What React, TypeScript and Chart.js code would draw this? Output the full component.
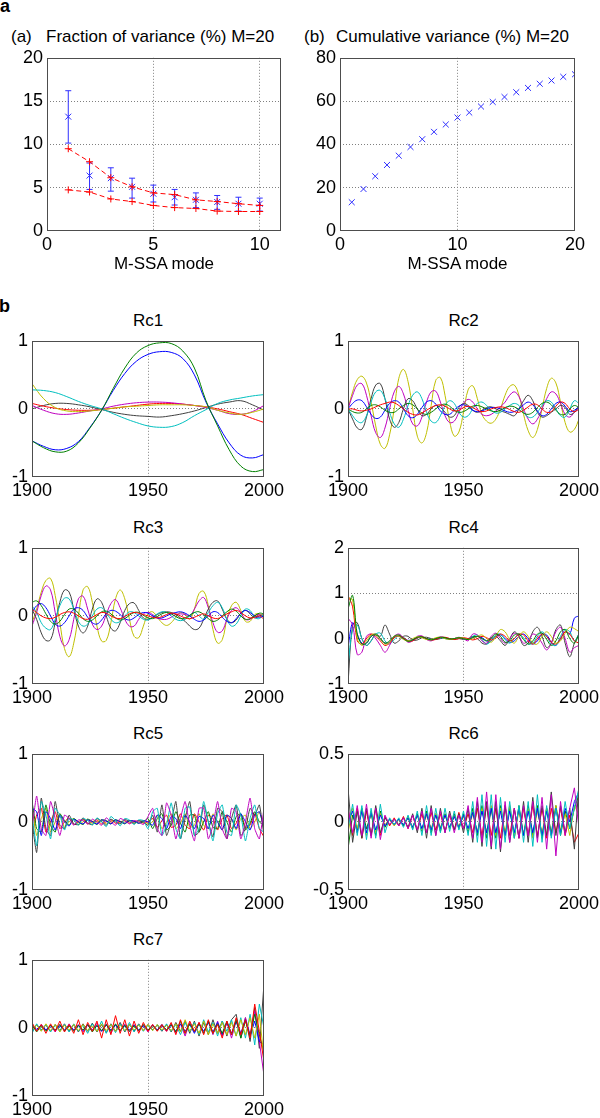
import React, { useEffect, useRef } from "react";
import { Chart, registerables } from "chart.js";

Chart.register(...registerables);

const FONT = "'Liberation Sans', Arial, Helvetica, sans-serif";

// ---------- panel (a): fraction of variance ----------
const MODES = [1, 2, 3, 4, 5, 6, 7, 8, 9, 10];
const FRAC_VAR = [13.2, 6.4, 6.1, 5.1, 4.3, 3.9, 3.6, 3.35, 3.15, 3.15];
const FRAC_LO = [10.15, 4.8, 4.6, 3.8, 3.35, 3.0, 2.7, 2.5, 2.3, 2.3];
const FRAC_HI = [16.2, 7.85, 7.3, 6.1, 5.3, 4.8, 4.4, 4.1, 3.9, 3.8];
const NULL_UPPER = [9.5, 8.0, 6.15, 5.1, 4.4, 4.2, 3.6, 3.4, 3.15, 2.95];
const NULL_LOWER = [4.75, 4.5, 3.7, 3.4, 2.95, 2.7, 2.6, 2.3, 2.25, 2.25];
const A_X_TICKS = [0, 5, 10];
const A_Y_TICKS = [0, 5, 10, 15, 20];

// ---------- panel (b): cumulative variance ----------
const CUM_MODES = [1, 2, 3, 4, 5, 6, 7, 8, 9, 10, 11, 12, 13, 14, 15, 16, 17, 18, 19, 20];
const CUM_VAR = [13.3, 19.4, 25.3, 30.5, 34.8, 38.8, 42.4, 45.8, 49.2, 52.4, 54.7, 57.5, 59.6, 61.9, 64.1, 66.1, 68.0, 69.5, 71.2, 72.4];
const B_X_TICKS = [0, 10, 20];
const B_Y_TICKS = [0, 20, 40, 60, 80];

// ---------- reconstructed components ----------
const YEARS5 = [1900, 1905, 1910, 1915, 1920, 1925, 1930, 1935, 1940, 1945, 1950, 1955, 1960, 1965, 1970, 1975, 1980, 1985, 1990, 1995, 2000];
const YEARS2 = [
  1900, 1902, 1904, 1906, 1908, 1910, 1912, 1914, 1916, 1918,
  1920, 1922, 1924, 1926, 1928, 1930, 1932, 1934, 1936, 1938,
  1940, 1942, 1944, 1946, 1948, 1950, 1952, 1954, 1956, 1958,
  1960, 1962, 1964, 1966, 1968, 1970, 1972, 1974, 1976, 1978,
  1980, 1982, 1984, 1986, 1988, 1990, 1992, 1994, 1996, 1998,
  2000,
];
const RC_X_TICKS = [1900, 1950, 2000];
const Y_TICKS_1 = [-1, 0, 1];
const Y_TICKS_RC4 = [-1, 0, 1, 2];
const Y_TICKS_RC6 = [-0.5, 0, 0.5];

// Rc1
const RC1_GREEN = [-0.47, -0.57, -0.63, -0.62, -0.5, -0.28, -0.02, 0.3, 0.6, 0.82, 0.93, 0.97, 0.96, 0.85, 0.6, 0.12, -0.25, -0.6, -0.84, -0.92, -0.89];
const RC1_BLUE = [-0.47, -0.55, -0.6, -0.58, -0.48, -0.27, -0.02, 0.27, 0.52, 0.7, 0.8, 0.84, 0.83, 0.74, 0.5, 0.1, -0.22, -0.5, -0.68, -0.72, -0.67];
const RC1_CYAN = [0.28, 0.27, 0.24, 0.18, 0.11, 0.05, 0.0, -0.07, -0.14, -0.2, -0.25, -0.27, -0.26, -0.2, -0.1, -0.01, 0.08, 0.13, 0.16, 0.19, 0.21];
const RC1_YELLOW = [0.37, 0.15, 0.02, -0.03, -0.04, -0.03, -0.01, 0.01, 0.03, 0.04, 0.05, 0.06, 0.06, 0.06, 0.05, 0.03, -0.02, -0.06, -0.08, -0.05, 0.0];
const RC1_MAGENTA = [0.05, -0.02, -0.07, -0.08, -0.06, -0.03, 0.0, 0.04, 0.07, 0.09, 0.1, 0.1, 0.09, 0.07, 0.05, 0.02, -0.02, -0.07, -0.08, -0.04, 0.05];
const RC1_RED = [0.08, 0.04, 0.01, -0.01, -0.02, -0.02, -0.01, 0.01, 0.03, 0.05, 0.07, 0.08, 0.08, 0.07, 0.05, 0.03, 0.0, -0.04, -0.08, -0.14, -0.2];
const RC1_GRAY = [0.0, 0.05, 0.08, 0.08, 0.06, 0.03, -0.01, -0.05, -0.08, -0.1, -0.11, -0.12, -0.1, -0.07, -0.03, 0.02, 0.07, 0.1, 0.12, 0.06, -0.02];

// Rc2
const RC2_YELLOW = [
  0.0, 0.25, 0.43, 0.48, 0.38, 0.1, -0.25, -0.52, -0.58, -0.38,
  0.0, 0.45, 0.58, 0.4, 0.0, -0.4, -0.5, -0.35, 0.05, 0.42,
  0.46, 0.2, -0.18, -0.4, -0.34, -0.05, 0.28, 0.34, 0.15, -0.08,
  -0.18, -0.21, -0.15, 0.0, 0.2, 0.33, 0.35, 0.2, -0.08, -0.32,
  -0.42, -0.3, 0.0, 0.3, 0.45, 0.38, 0.1, -0.2, -0.34, -0.3,
  -0.15,
];
const RC2_MAGENTA = [
  0.0, 0.2, 0.35, 0.37, 0.2, -0.1, -0.35, -0.42, -0.28, 0.0,
  0.25, 0.33, 0.22, -0.02, -0.22, -0.25, -0.12, 0.1, 0.25, 0.26,
  0.1, -0.1, -0.2, -0.18, -0.05, 0.08, 0.14, 0.1, 0.0, -0.08,
  -0.1, -0.08, -0.03, 0.03, 0.1, 0.2, 0.25, 0.18, 0.0, -0.15,
  -0.22, -0.15, 0.0, 0.15, 0.25, 0.22, 0.08, -0.08, -0.12, -0.05,
  0.0,
];
const RC2_GRAY = [
  0.0, -0.15, -0.28, -0.3, -0.12, 0.15, 0.35, 0.37, 0.15, -0.15,
  -0.27, -0.2, 0.0, 0.15, 0.12, 0.0, -0.1, -0.08, 0.0, 0.05,
  0.02, -0.05, -0.12, -0.1, 0.02, 0.08, 0.05, -0.02, -0.05, -0.02,
  0.02, 0.03, 0.0, -0.03, -0.05, -0.08, -0.1, 0.0, 0.12, 0.2,
  0.12, -0.05, -0.12, -0.1, -0.05, 0.0, 0.05, 0.02, -0.08, -0.05,
  0.05,
];
const RC2_CYAN = [
  0.0, -0.1, -0.18, -0.2, -0.1, 0.1, 0.25, 0.27, 0.15, -0.05,
  -0.22, -0.27, -0.15, 0.05, 0.2, 0.25, 0.15, -0.05, -0.18, -0.2,
  -0.1, 0.05, 0.12, 0.08, -0.05, -0.12, -0.1, 0.0, 0.08, 0.1,
  0.05, -0.02, -0.06, -0.05, 0.0, 0.05, 0.08, 0.05, -0.05, -0.12,
  -0.12, -0.05, 0.05, 0.12, 0.1, 0.0, -0.1, -0.12, 0.0, 0.12,
  0.08,
];
const RC2_BLUE = [
  0.0, 0.08, 0.13, 0.12, 0.03, -0.08, -0.14, -0.12, -0.02, 0.08,
  0.12, 0.1, 0.0, -0.1, -0.13, -0.08, 0.02, 0.1, 0.12, 0.07,
  -0.03, -0.08, -0.08, -0.02, 0.04, 0.06, 0.03, -0.02, -0.04, -0.03,
  0.0, 0.02, 0.02, 0.0, -0.03, -0.05, -0.04, 0.0, 0.06, 0.1,
  0.06, -0.03, -0.1, -0.08, 0.0, 0.08, 0.1, 0.04, -0.04, -0.02,
  0.03,
];
const RC2_RED = [
  0.0, 0.0, -0.02, -0.03, -0.02, 0.0, 0.03, 0.06, 0.08, 0.1,
  0.09, 0.05, 0.0, -0.05, -0.08, -0.09, -0.06, -0.02, 0.02, 0.05,
  0.06, 0.04, 0.0, -0.03, -0.02, 0.02, 0.04, 0.02, -0.02, -0.04,
  -0.03, 0.0, 0.02, 0.03, 0.02, -0.01, -0.04, -0.05, -0.02, 0.03,
  0.07, 0.06, 0.0, -0.05, -0.04, 0.04, 0.1, 0.08, 0.0, -0.04,
  0.0,
];
const RC2_GREEN = [
  0.0, -0.04, -0.06, -0.05, 0.0, 0.05, 0.06, 0.03, -0.02, -0.05,
  -0.05, 0.0, 0.05, 0.08, 0.06, 0.0, -0.06, -0.08, -0.05, 0.0,
  0.05, 0.07, 0.04, -0.02, -0.05, -0.04, 0.0, 0.04, 0.05, 0.03,
  0.0, -0.03, -0.04, -0.02, 0.02, 0.04, 0.03, -0.01, -0.06, -0.08,
  -0.05, 0.02, 0.08, 0.1, 0.06, -0.02, -0.08, -0.08, 0.0, 0.05,
  0.02,
];

// Rc3
const RC3_YELLOW = [
  -0.1, 0.1, 0.35, 0.52, 0.55, 0.3, -0.1, -0.48, -0.6, -0.4,
  0.0, 0.38, 0.43, 0.2, -0.15, -0.37, -0.36, -0.1, 0.25, 0.38,
  0.25, -0.05, -0.3, -0.32, -0.15, 0.03, 0.06, -0.02, -0.1, -0.14,
  -0.1, -0.02, 0.05, 0.02, -0.05, 0.1, 0.33, 0.36, 0.15, -0.2,
  -0.4, -0.35, -0.05, 0.15, 0.2, 0.08, -0.08, -0.08, 0.02, 0.03,
  0.0,
];
const RC3_MAGENTA = [
  -0.15, 0.05, 0.3, 0.44, 0.38, 0.05, -0.3, -0.44, -0.35, -0.05,
  0.25, 0.29, 0.1, -0.12, -0.2, -0.15, 0.02, 0.18, 0.24, 0.12,
  -0.05, -0.15, -0.15, -0.05, 0.03, 0.05, 0.02, -0.03, -0.05, -0.05,
  -0.02, 0.02, 0.03, 0.02, 0.0, 0.1, 0.22, 0.27, 0.12, -0.1,
  -0.24, -0.22, -0.05, 0.08, 0.12, 0.05, -0.05, -0.05, 0.0, 0.02,
  -0.02,
];
const RC3_GRAY = [
  0.1, -0.05, -0.25, -0.36, -0.35, -0.1, 0.2, 0.38, 0.35, 0.1,
  -0.15, -0.25, -0.15, 0.1, 0.25, 0.2, 0.0, -0.18, -0.22, -0.1,
  0.08, 0.18, 0.19, 0.08, -0.03, -0.05, -0.02, 0.02, 0.05, 0.06,
  0.05, 0.02, -0.03, -0.08, -0.15, -0.2, -0.18, -0.05, 0.1, 0.2,
  0.22, 0.1, -0.05, -0.1, -0.06, 0.04, 0.08, 0.03, -0.03, 0.0,
  0.02,
];
const RC3_CYAN = [
  0.15, 0.05, -0.1, -0.18, -0.2, -0.05, 0.15, 0.26, 0.25, 0.1,
  -0.08, -0.15, -0.12, 0.0, 0.1, 0.12, 0.05, -0.05, -0.1, -0.08,
  0.0, 0.06, 0.05, 0.0, -0.05, -0.06, -0.02, 0.03, 0.06, 0.05,
  0.0, -0.05, -0.07, -0.05, 0.0, 0.05, 0.0, -0.05, 0.05, 0.15,
  0.2, 0.12, -0.05, -0.15, -0.12, 0.0, 0.1, 0.08, -0.02, -0.04,
  0.03,
];
const RC3_BLUE = [
  0.05, 0.15, 0.18, 0.12, 0.0, -0.12, -0.15, -0.1, 0.0, 0.1,
  0.12, 0.08, -0.02, -0.1, -0.12, -0.06, 0.03, 0.08, 0.07, 0.02,
  -0.04, -0.06, -0.03, 0.02, 0.05, 0.04, 0.0, -0.03, -0.03, 0.0,
  0.03, 0.05, 0.06, 0.04, 0.0, -0.05, -0.08, -0.06, 0.0, 0.06,
  0.05, -0.02, -0.08, -0.1, -0.04, 0.04, 0.08, 0.05, 0.0, -0.02,
  0.0,
];
const RC3_RED = [
  0.1, 0.05, 0.0, -0.03, -0.04, -0.02, 0.02, 0.05, 0.06, 0.04,
  0.0, -0.04, -0.05, -0.02, 0.02, 0.05, 0.04, 0.0, -0.03, -0.04,
  -0.01, 0.03, 0.05, 0.04, 0.02, 0.0, -0.02, -0.03, -0.01, 0.02,
  0.04, 0.03, 0.0, -0.03, -0.04, -0.02, 0.01, 0.03, 0.0, -0.03,
  -0.04, -0.01, 0.03, 0.06, 0.08, 0.05, 0.0, -0.03, -0.02, 0.0,
  -0.05,
];
const RC3_GREEN = [
  0.2, 0.22, 0.15, 0.03, -0.08, -0.12, -0.08, 0.02, 0.1, 0.1,
  0.04, -0.04, -0.08, -0.06, 0.0, 0.06, 0.07, 0.03, -0.03, -0.06,
  -0.04, 0.01, 0.05, 0.05, 0.01, -0.03, -0.04, -0.01, 0.03, 0.05,
  0.03, -0.01, -0.04, -0.03, 0.01, 0.05, 0.06, 0.02, -0.04, -0.08,
  -0.06, 0.0, 0.06, 0.1, 0.07, 0.0, -0.05, -0.04, 0.0, 0.04,
  0.03,
];

// Rc4
const RC4_GREEN = [
  0.65, 0.95, 0.1, -0.12, -0.1, 0.05, 0.08, 0.0, -0.1, -0.05,
  0.05, 0.08, 0.0, -0.06, -0.03, 0.03, 0.04, 0.0, -0.03, 0.0,
  0.03, 0.02, -0.01, 0.0, 0.02, 0.0, -0.02, 0.03, 0.05, 0.0,
  -0.05, 0.02, 0.1, 0.05, -0.08, -0.05, 0.08, 0.1, -0.02, -0.12,
  -0.05, 0.1, 0.12, -0.02, -0.15, -0.05, 0.15, 0.2, 0.0, -0.1,
  0.1,
];
const RC4_YELLOW = [
  0.9, 0.85, 0.0, -0.15, -0.05, 0.08, 0.1, 0.0, -0.12, -0.08,
  0.05, 0.05, -0.02, -0.05, 0.0, 0.04, 0.02, -0.02, -0.02, 0.02,
  0.03, 0.0, -0.02, 0.0, 0.02, 0.01, -0.02, 0.0, 0.05, 0.08,
  0.0, -0.08, 0.05, 0.2, 0.15, -0.02, -0.1, 0.05, 0.15, 0.05,
  -0.1, -0.12, 0.05, 0.15, 0.05, -0.1, -0.05, 0.12, 0.25, 0.22,
  0.15,
];
const RC4_RED = [
  0.95, 0.7, -0.05, -0.12, 0.0, 0.1, 0.05, -0.05, -0.15, -0.1,
  0.02, 0.06, 0.02, -0.05, -0.05, 0.02, 0.04, 0.0, -0.03, -0.02,
  0.02, 0.03, 0.0, -0.02, 0.0, 0.02, 0.0, -0.03, 0.0, 0.05,
  0.02, -0.03, 0.02, 0.1, 0.05, -0.05, 0.0, 0.1, 0.08, -0.05,
  -0.12, 0.0, 0.1, 0.05, -0.08, -0.12, 0.0, 0.15, 0.1, -0.05,
  -0.1,
];
const RC4_MAGENTA = [
  0.45, 0.3, -0.35, -0.3, 0.05, 0.1, 0.0, -0.15, -0.3, -0.15,
  0.05, 0.1, 0.02, -0.08, -0.05, 0.05, 0.06, -0.02, -0.05, 0.0,
  0.04, 0.02, -0.02, 0.0, 0.03, 0.0, -0.05, 0.1, 0.08, -0.05,
  -0.1, 0.05, 0.12, 0.0, -0.1, 0.0, 0.12, 0.05, -0.1, -0.05,
  0.1, 0.05, -0.1, -0.25, -0.1, 0.15, 0.25, 0.0, -0.3, -0.2,
  -0.15,
];
const RC4_CYAN = [
  -0.6, 0.2, 0.3, 0.0, -0.15, -0.05, 0.1, 0.12, -0.05, -0.12,
  -0.02, 0.06, 0.03, -0.05, -0.04, 0.02, 0.03, 0.0, -0.02, 0.0,
  0.02, 0.0, -0.02, 0.0, 0.02, 0.0, -0.02, 0.05, 0.08, -0.02,
  -0.12, -0.05, 0.08, 0.1, -0.02, -0.1, 0.0, 0.1, 0.02, -0.12,
  -0.1, 0.05, 0.15, 0.05, -0.12, -0.15, 0.05, 0.2, 0.15, -0.05,
  0.1,
];
const RC4_BLUE = [
  -0.2, 0.35, 0.1, -0.1, -0.1, 0.05, 0.1, 0.0, -0.1, -0.08,
  0.03, 0.05, 0.0, -0.04, -0.02, 0.02, 0.03, 0.0, -0.02, 0.0,
  0.02, 0.01, -0.01, 0.0, 0.01, 0.0, -0.02, 0.02, 0.05, 0.02,
  -0.05, -0.05, 0.05, 0.08, 0.0, -0.08, -0.05, 0.05, 0.1, 0.0,
  -0.12, -0.05, 0.1, 0.08, -0.08, -0.15, 0.0, 0.15, 0.1, 0.45,
  0.5,
];
const RC4_GRAY = [
  -1.0, 0.3, 0.35, 0.0, -0.15, -0.05, 0.1, 0.05, 0.3, 0.1,
  -0.1, -0.05, 0.05, 0.05, -0.03, -0.03, 0.02, 0.03, 0.0, -0.02,
  0.0, 0.02, 0.0, -0.02, 0.0, -0.02, 0.0, 0.05, 0.0, -0.1,
  -0.12, 0.0, 0.05, -0.05, -0.15, 0.0, 0.15, 0.05, -0.15, -0.1,
  0.15, 0.25, 0.05, -0.2, -0.1, 0.2, 0.3, -0.1, -0.4, -0.1,
  0.1,
];

// Rc5
const RC5_MAGENTA = [
  -0.1, 0.38, -0.1, -0.2, 0.3, 0.05, -0.2, 0.1, 0.05, -0.05,
  0.03, 0.02, -0.03, 0.04, 0.0, -0.05, 0.06, 0.0, -0.05, 0.05,
  0.02, -0.03, 0.02, 0.0, -0.04, 0.08, 0.2, -0.1, -0.2, 0.28,
  0.1, -0.25, 0.05, 0.3, -0.05, -0.28, 0.2, 0.2, -0.25, -0.05,
  0.3, -0.1, -0.25, 0.2, 0.15, -0.25, 0.0, 0.35, -0.1, -0.25,
  0.2,
];
const RC5_CYAN = [
  0.1, -0.35, 0.3, 0.1, -0.25, 0.2, 0.1, -0.12, 0.05, 0.03,
  -0.05, 0.05, 0.02, -0.05, 0.06, 0.0, -0.07, 0.08, 0.02, -0.06,
  0.05, 0.03, -0.04, 0.03, 0.02, -0.1, 0.15, 0.2, -0.2, -0.05,
  0.28, -0.1, -0.25, 0.2, 0.22, -0.2, -0.1, 0.3, 0.0, -0.28,
  0.12, 0.25, -0.15, -0.2, 0.25, 0.1, -0.28, 0.05, 0.25, -0.1,
  -0.15,
];
const RC5_GRAY = [
  0.0, -0.45, 0.35, -0.1, -0.2, 0.3, -0.05, -0.1, 0.1, -0.03,
  -0.04, 0.06, -0.02, -0.04, 0.05, 0.01, -0.05, 0.04, 0.0, -0.03,
  0.04, 0.0, -0.02, 0.02, 0.0, -0.05, 0.1, -0.15, 0.25, -0.2,
  0.0, 0.3, -0.25, 0.05, 0.3, -0.2, -0.15, 0.25, 0.0, -0.22,
  0.2, 0.15, -0.25, 0.05, 0.25, -0.2, -0.1, 0.2, 0.1, 0.25,
  -0.2,
];
const RC5_BLUE = [
  0.2, 0.15, -0.2, 0.15, 0.05, -0.12, 0.1, 0.0, -0.06, 0.04,
  0.0, -0.03, 0.03, 0.0, -0.03, 0.03, 0.01, -0.03, 0.03, 0.0,
  -0.02, 0.02, 0.01, -0.02, 0.02, 0.0, -0.05, 0.1, 0.05, -0.1,
  0.08, 0.05, -0.1, 0.1, 0.0, -0.1, 0.08, 0.05, -0.1, 0.1,
  0.0, -0.12, 0.1, 0.05, -0.1, 0.12, 0.0, -0.12, 0.1, 0.15,
  -0.1,
];
const RC5_GREEN = [
  0.3, -0.1, -0.15, 0.25, -0.05, -0.15, 0.12, 0.02, -0.05, 0.05,
  0.0, -0.04, 0.04, 0.01, -0.04, 0.03, 0.02, -0.03, 0.03, 0.01,
  -0.03, 0.02, 0.01, -0.02, 0.0, 0.05, -0.1, 0.05, 0.12, -0.12,
  -0.05, 0.15, -0.02, -0.15, 0.1, 0.1, -0.15, 0.0, 0.15, -0.08,
  -0.1, 0.15, 0.0, -0.15, 0.08, 0.12, -0.12, -0.02, 0.15, 0.0,
  -0.05,
];
const RC5_RED = [
  -0.2, 0.1, 0.2, -0.15, 0.0, 0.15, -0.1, 0.0, 0.06, -0.04,
  0.0, 0.04, -0.03, 0.0, 0.03, -0.03, 0.0, 0.03, -0.02, 0.0,
  0.02, -0.02, 0.0, 0.02, -0.02, 0.0, 0.05, -0.08, 0.02, 0.1,
  -0.08, -0.05, 0.12, -0.05, -0.1, 0.12, 0.0, -0.12, 0.1, 0.05,
  -0.12, 0.05, 0.1, -0.1, -0.02, 0.12, -0.08, -0.05, 0.12, -0.1,
  -0.22,
];
const RC5_YELLOW = [
  0.25, -0.2, 0.05, 0.2, -0.15, 0.0, 0.12, -0.08, 0.0, 0.05,
  -0.04, 0.0, 0.04, -0.03, 0.0, 0.03, -0.03, 0.0, 0.03, -0.02,
  0.0, 0.02, -0.02, 0.0, 0.02, -0.03, 0.0, 0.1, -0.1, 0.0,
  0.12, -0.1, -0.02, 0.12, -0.08, -0.05, 0.12, -0.05, -0.1, 0.12,
  0.0, -0.12, 0.1, 0.05, -0.12, 0.05, 0.1, -0.1, 0.0, 0.15,
  -0.1,
];

// Rc6
const RC6_MAGENTA = [
  0.1, -0.08, 0.12, -0.1, 0.13, -0.12, 0.1, -0.13, 0.05, -0.02,
  0.02, -0.03, 0.03, -0.05, 0.05, -0.06, 0.08, -0.08, 0.1, -0.1,
  0.08, -0.08, 0.06, -0.08, 0.05, -0.05, 0.12, -0.12, 0.18, -0.15,
  0.22, -0.18, 0.2, -0.2, 0.15, -0.15, 0.1, -0.12, 0.12, -0.1,
  0.15, -0.15, 0.18, -0.2, 0.2, -0.25, 0.15, -0.1, 0.1, 0.25,
  -0.05,
];
const RC6_CYAN = [
  -0.05, 0.13, -0.1, 0.12, -0.13, 0.1, -0.12, 0.13, -0.08, 0.03,
  -0.02, 0.03, -0.04, 0.05, -0.06, 0.08, -0.1, 0.12, -0.1, 0.1,
  -0.08, 0.1, -0.07, 0.08, -0.06, 0.08, -0.1, 0.15, -0.15, 0.2,
  -0.18, 0.2, -0.2, 0.18, -0.15, 0.15, -0.12, 0.12, -0.15, 0.15,
  -0.18, 0.2, -0.15, 0.12, -0.12, 0.1, -0.1, 0.15, -0.05, 0.1,
  0.25,
];
const RC6_GRAY = [
  0.25, -0.15, 0.08, -0.12, 0.1, -0.1, 0.12, -0.08, 0.03, -0.02,
  0.02, -0.02, 0.03, -0.04, 0.06, -0.08, 0.1, -0.12, 0.12, -0.1,
  0.1, -0.08, 0.08, -0.06, 0.06, -0.08, 0.1, -0.15, 0.15, -0.18,
  0.15, -0.2, 0.15, -0.22, 0.12, -0.15, 0.1, -0.12, 0.15, -0.15,
  0.18, -0.12, 0.12, -0.1, 0.22, -0.1, 0.12, -0.08, 0.1, -0.2,
  0.28,
];
const RC6_BLUE = [
  0.0, 0.08, -0.08, 0.08, -0.08, 0.07, -0.06, 0.05, -0.03, 0.02,
  -0.02, 0.02, -0.02, 0.03, -0.04, 0.05, -0.05, 0.06, -0.06, 0.05,
  -0.05, 0.05, -0.04, 0.04, -0.04, 0.05, -0.05, 0.07, -0.08, 0.08,
  -0.08, 0.1, -0.08, 0.08, -0.1, 0.08, -0.08, 0.1, -0.1, 0.08,
  -0.08, 0.1, -0.1, 0.08, -0.1, 0.1, -0.08, 0.1, 0.0, 0.15,
  0.22,
];
const RC6_RED = [
  0.1, -0.1, 0.1, -0.12, 0.08, -0.1, 0.1, -0.1, 0.04, -0.03,
  0.03, -0.03, 0.04, -0.05, 0.05, -0.06, 0.06, -0.08, 0.07, -0.06,
  0.06, -0.07, 0.05, -0.06, 0.07, -0.05, 0.06, -0.08, 0.1, -0.1,
  0.12, -0.1, 0.1, -0.12, 0.12, -0.1, 0.1, -0.12, 0.1, -0.1,
  0.12, -0.1, 0.1, -0.12, 0.1, -0.08, 0.1, -0.1, 0.05, -0.15,
  -0.08,
];
const RC6_YELLOW = [
  -0.08, 0.1, -0.05, 0.08, -0.1, 0.08, -0.08, 0.06, -0.02, 0.02,
  -0.03, 0.02, -0.02, 0.04, -0.04, 0.05, -0.06, 0.05, -0.05, 0.06,
  -0.04, 0.05, -0.05, 0.04, -0.03, 0.04, -0.06, 0.06, -0.08, 0.1,
  -0.08, 0.12, -0.1, 0.1, -0.08, 0.12, -0.1, 0.08, -0.1, 0.1,
  -0.12, 0.08, -0.08, 0.1, -0.1, 0.12, -0.06, 0.06, -0.1, 0.12,
  0.05,
];
const RC6_GREEN = [
  -0.2, 0.05, -0.06, 0.1, -0.05, 0.06, -0.1, 0.08, -0.04, 0.02,
  -0.02, 0.02, -0.03, 0.03, -0.05, 0.06, -0.07, 0.08, -0.08, 0.06,
  -0.07, 0.06, -0.05, 0.06, -0.05, 0.06, -0.08, 0.1, -0.1, 0.12,
  -0.12, 0.1, -0.12, 0.12, -0.1, 0.1, -0.12, 0.12, -0.1, 0.12,
  -0.1, 0.12, -0.12, 0.1, -0.08, 0.12, -0.1, 0.08, -0.05, 0.1,
  0.2,
];

// Rc7
const RC7_RED = [
  0.08, -0.05, 0.05, -0.08, 0.06, -0.05, 0.1, -0.06, 0.05, -0.08,
  0.12, -0.1, 0.08, -0.05, 0.1, -0.15, 0.12, -0.1, 0.18, -0.08,
  0.12, -0.12, 0.1, -0.08, 0.08, -0.05, 0.05, -0.05, 0.05, -0.05,
  0.08, -0.1, 0.12, -0.08, 0.1, -0.05, 0.08, -0.1, 0.12, -0.08,
  0.05, -0.15, 0.1, -0.1, 0.15, -0.1, 0.12, -0.15, 0.35, -0.05,
  -0.5,
];
const RC7_GRAY = [
  -0.05, 0.05, -0.03, 0.04, -0.05, 0.05, -0.04, 0.06, -0.05, 0.05,
  -0.06, 0.06, -0.05, 0.07, -0.06, 0.05, -0.07, 0.06, -0.05, 0.08,
  -0.06, 0.05, -0.05, 0.06, -0.04, 0.05, -0.03, 0.04, -0.05, 0.05,
  -0.06, 0.08, -0.05, 0.1, -0.08, 0.1, -0.12, 0.08, -0.1, 0.12,
  -0.08, 0.1, -0.12, 0.12, 0.2, -0.15, 0.15, -0.2, 0.3, -0.3,
  0.65,
];
const RC7_MAGENTA = [
  0.03, -0.04, 0.05, -0.03, 0.04, -0.06, 0.05, -0.05, 0.06, -0.04,
  0.05, -0.06, 0.04, -0.05, 0.07, -0.05, 0.06, -0.08, 0.05, -0.05,
  0.06, -0.06, 0.05, -0.05, 0.04, -0.06, 0.05, -0.04, 0.03, -0.05,
  0.06, -0.08, 0.06, -0.12, 0.08, -0.06, 0.08, -0.08, 0.1, -0.1,
  0.1, -0.12, 0.08, -0.15, 0.1, -0.12, 0.15, -0.1, 0.25, -0.2,
  -0.7,
];
const RC7_CYAN = [
  -0.08, 0.06, -0.04, 0.05, -0.06, 0.04, -0.05, 0.05, -0.06, 0.06,
  -0.05, 0.04, -0.08, 0.06, -0.05, 0.1, -0.08, 0.05, -0.07, 0.06,
  -0.05, 0.08, -0.06, 0.05, -0.05, 0.04, -0.04, 0.05, -0.04, 0.06,
  -0.05, 0.05, -0.1, 0.08, -0.06, 0.08, -0.1, 0.12, -0.06, 0.08,
  -0.12, 0.1, -0.05, 0.12, -0.12, 0.15, -0.15, 0.2, -0.25, 0.35,
  0.0,
];
const RC7_BLUE = [
  0.02, -0.02, 0.04, -0.03, 0.03, -0.04, 0.03, -0.03, 0.04, -0.03,
  0.03, -0.04, 0.05, -0.03, 0.03, -0.05, 0.04, -0.03, 0.04, -0.04,
  0.03, -0.03, 0.04, -0.03, 0.03, -0.04, 0.04, -0.03, 0.05, -0.04,
  0.04, -0.05, 0.06, -0.05, 0.05, -0.08, 0.06, -0.05, 0.08, -0.06,
  0.08, -0.1, 0.08, -0.08, 0.1, -0.08, 0.12, -0.12, 0.1, -0.2,
  -0.25,
];
const RC7_GREEN = [
  0.05, -0.06, 0.03, -0.05, 0.04, -0.03, 0.05, -0.04, 0.03, -0.05,
  0.04, -0.03, 0.05, -0.06, 0.04, -0.04, 0.05, -0.05, 0.06, -0.04,
  0.04, -0.05, 0.03, -0.04, 0.05, -0.03, 0.03, -0.04, 0.04, -0.03,
  0.05, -0.06, 0.1, -0.08, 0.06, -0.05, 0.06, -0.08, 0.1, -0.08,
  0.06, -0.08, 0.1, -0.1, 0.12, -0.15, 0.1, -0.12, 0.2, -0.1,
  -0.35,
];
const RC7_YELLOW = [
  -0.03, 0.04, -0.05, 0.06, -0.04, 0.05, -0.06, 0.04, -0.03, 0.05,
  -0.04, 0.05, -0.04, 0.03, -0.05, 0.06, -0.04, 0.05, -0.05, 0.04,
  -0.04, 0.05, -0.03, 0.04, -0.04, 0.05, -0.04, 0.05, -0.03, 0.04,
  -0.04, 0.06, -0.06, 0.12, -0.05, 0.06, -0.08, 0.1, -0.1, 0.06,
  -0.08, 0.08, -0.1, 0.08, -0.12, 0.12, -0.1, 0.15, -0.15, 0.2,
  -0.45,
];

// ---------- styling ----------
const C = {
  blue: "#0000ff",
  green: "#008000",
  red: "#ff0000",
  cyan: "#00bfbf",
  magenta: "#bf00bf",
  yellow: "#bfbf00",
  gray: "#404040",
};
const MARK_BLUE = "#3030ff";

const YW = 40; // y-axis box width
const PT = 14; // room above plot
const PR = 26; // room right of plot
const XH = 32; // x-axis box height

const boxPlugin = {
  id: "matlabBox",
  afterDraw(chart: any) {
    const { ctx, chartArea } = chart;
    const l = Math.round(chartArea.left);
    const t = Math.round(chartArea.top);
    const r = Math.round(chartArea.right);
    const b = Math.round(chartArea.bottom);
    ctx.save();
    ctx.strokeStyle = "#4d4d4d";
    ctx.lineWidth = 1;
    ctx.setLineDash([]);
    ctx.strokeRect(l + 0.5, t + 0.5, r - l - 1, b - t - 1);
    ctx.restore();
  },
};

function axis(min: number, max: number, ticks: number[], isX: boolean) {
  return {
    type: "linear",
    min,
    max,
    afterBuildTicks: (s: any) => {
      s.ticks = ticks.map((v) => ({ value: v }));
    },
    afterFit: (s: any) => {
      if (isX) s.height = XH;
      else s.width = YW;
    },
    ticks: {
      color: "#000",
      font: { family: FONT, size: 18 },
      padding: isX ? 3 : 4,
      maxRotation: 0,
      minRotation: 0,
      autoSkip: false,
      callback: (v: any) => String(v),
    },
    grid: {
      color: (c: any) =>
        c.tick && (c.tick.value === min || c.tick.value === max) ? "rgba(0,0,0,0)" : "#808080",
      drawTicks: false,
      lineWidth: 1,
    },
    border: { display: false, dash: [1, 2] },
  };
}

function baseOptions(xMin: number, xMax: number, xTicks: number[], yMin: number, yMax: number, yTicks: number[]) {
  return {
    responsive: false,
    animation: false,
    layout: { padding: { top: PT, right: PR, left: 0, bottom: 0 } },
    plugins: { legend: { display: false }, tooltip: { enabled: false }, title: { display: false } },
    elements: { point: { radius: 0 }, line: { borderWidth: 1 } },
    scales: {
      x: axis(xMin, xMax, xTicks, true),
      y: axis(yMin, yMax, yTicks, false),
    },
  };
}

function xy(xs: number[], ys: (number | null)[]) {
  return xs.map((x, i) => ({ x, y: ys[i] }));
}

function buildFraction() {
  const errData: any[] = [];
  MODES.forEach((m, i) => {
    errData.push({ x: m, y: FRAC_LO[i] }, { x: m, y: FRAC_HI[i] }, { x: m, y: null });
  });
  return {
    type: "line",
    data: {
      datasets: [
        {
          data: xy(MODES, NULL_UPPER),
          borderColor: C.red,
          borderDash: [5, 3],
          borderWidth: 1,
          pointStyle: "cross",
          pointRadius: 3.5,
          pointBorderColor: C.red,
          pointBorderWidth: 1,
          tension: 0,
        },
        {
          data: xy(MODES, NULL_LOWER),
          borderColor: C.red,
          borderDash: [5, 3],
          borderWidth: 1,
          pointStyle: "cross",
          pointRadius: 3.5,
          pointBorderColor: C.red,
          pointBorderWidth: 1,
          tension: 0,
        },
        {
          data: xy(MODES, FRAC_VAR),
          showLine: false,
          pointStyle: "crossRot",
          pointRadius: 4.2,
          pointBorderColor: MARK_BLUE,
          pointBorderWidth: 1,
        },
        {
          data: errData,
          borderColor: MARK_BLUE,
          borderWidth: 1,
          spanGaps: false,
          pointStyle: "line",
          pointRadius: 3,
          pointBorderColor: MARK_BLUE,
          pointBorderWidth: 1,
          tension: 0,
        },
      ],
    },
    options: baseOptions(0, 11, A_X_TICKS, 0, 20, A_Y_TICKS),
    plugins: [boxPlugin],
  };
}

function buildCumulative() {
  return {
    type: "line",
    data: {
      datasets: [
        {
          data: xy(CUM_MODES, CUM_VAR),
          showLine: false,
          pointStyle: "crossRot",
          pointRadius: 4.2,
          pointBorderColor: MARK_BLUE,
          pointBorderWidth: 1,
        },
      ],
    },
    options: baseOptions(0, 20, B_X_TICKS, 0, 80, B_Y_TICKS),
    plugins: [boxPlugin],
  };
}

type RcDef = {
  title: string;
  col: number;
  row: number;
  years: number[];
  series: [number[], string][];
  yMin: number;
  yMax: number;
  yTicks: number[];
  tension: number;
};

// first series is drawn on top
const RC_PANELS: RcDef[] = [
  {
    title: "Rc1", col: 0, row: 0, years: YEARS5, yMin: -1, yMax: 1, yTicks: Y_TICKS_1, tension: 0.4,
    series: [[RC1_GREEN, C.green], [RC1_BLUE, C.blue], [RC1_CYAN, C.cyan], [RC1_YELLOW, C.yellow], [RC1_MAGENTA, C.magenta], [RC1_RED, C.red], [RC1_GRAY, C.gray]],
  },
  {
    title: "Rc2", col: 1, row: 0, years: YEARS2, yMin: -1, yMax: 1, yTicks: Y_TICKS_1, tension: 0.4,
    series: [[RC2_RED, C.red], [RC2_GREEN, C.green], [RC2_BLUE, C.blue], [RC2_CYAN, C.cyan], [RC2_GRAY, C.gray], [RC2_MAGENTA, C.magenta], [RC2_YELLOW, C.yellow]],
  },
  {
    title: "Rc3", col: 0, row: 1, years: YEARS2, yMin: -1, yMax: 1, yTicks: Y_TICKS_1, tension: 0.4,
    series: [[RC3_RED, C.red], [RC3_GREEN, C.green], [RC3_BLUE, C.blue], [RC3_CYAN, C.cyan], [RC3_GRAY, C.gray], [RC3_MAGENTA, C.magenta], [RC3_YELLOW, C.yellow]],
  },
  {
    title: "Rc4", col: 1, row: 1, years: YEARS2, yMin: -1, yMax: 2, yTicks: Y_TICKS_RC4, tension: 0.35,
    series: [[RC4_GREEN, C.green], [RC4_YELLOW, C.yellow], [RC4_RED, C.red], [RC4_MAGENTA, C.magenta], [RC4_CYAN, C.cyan], [RC4_BLUE, C.blue], [RC4_GRAY, C.gray]],
  },
  {
    title: "Rc5", col: 0, row: 2, years: YEARS2, yMin: -1, yMax: 1, yTicks: Y_TICKS_1, tension: 0.15,
    series: [[RC5_MAGENTA, C.magenta], [RC5_CYAN, C.cyan], [RC5_GRAY, C.gray], [RC5_BLUE, C.blue], [RC5_GREEN, C.green], [RC5_YELLOW, C.yellow], [RC5_RED, C.red]],
  },
  {
    title: "Rc6", col: 1, row: 2, years: YEARS2, yMin: -0.5, yMax: 0.5, yTicks: Y_TICKS_RC6, tension: 0,
    series: [[RC6_MAGENTA, C.magenta], [RC6_CYAN, C.cyan], [RC6_GRAY, C.gray], [RC6_BLUE, C.blue], [RC6_YELLOW, C.yellow], [RC6_RED, C.red], [RC6_GREEN, C.green]],
  },
  {
    title: "Rc7", col: 0, row: 3, years: YEARS2, yMin: -1, yMax: 1, yTicks: Y_TICKS_1, tension: 0,
    series: [[RC7_RED, C.red], [RC7_YELLOW, C.yellow], [RC7_GREEN, C.green], [RC7_BLUE, C.blue], [RC7_CYAN, C.cyan], [RC7_MAGENTA, C.magenta], [RC7_GRAY, C.gray]],
  },
];

const COL_LEFT = [32, 348];
const COL_W = [232, 231];
const ROW_TOP = [340, 547, 753, 959];
const RC_H = 137;

function buildRc(p: RcDef) {
  return {
    type: "line",
    data: {
      datasets: p.series.map(([vals, color]) => ({
        data: xy(p.years, vals),
        borderColor: color,
        borderWidth: 1,
        pointRadius: 0,
        tension: p.tension,
      })),
    },
    options: baseOptions(1900, 2000, RC_X_TICKS, p.yMin, p.yMax, p.yTicks),
    plugins: [boxPlugin],
  };
}

function ChartPanel({ left, top, w, h, build }: { left: number; top: number; w: number; h: number; build: () => any }) {
  const ref = useRef<HTMLCanvasElement>(null);
  useEffect(() => {
    const chart = new Chart(ref.current as HTMLCanvasElement, build());
    return () => chart.destroy();
  }, []);
  const cw = w + YW + PR;
  const ch = h + PT + XH;
  return (
    <canvas
      ref={ref}
      width={cw}
      height={ch}
      style={{ position: "absolute", left: left - YW, top: top - PT, width: cw, height: ch }}
    />
  );
}

const txt = (extra: React.CSSProperties): React.CSSProperties => ({
  position: "absolute",
  fontFamily: FONT,
  fontSize: 17,
  lineHeight: "20px",
  color: "#000",
  whiteSpace: "nowrap",
  ...extra,
});

export default function App() {
  return (
    <div style={{ position: "absolute", left: 0, top: 0, width: 600, height: 1118, background: "#fff", overflow: "hidden" }}>
      <div style={txt({ left: 0, top: -4, fontSize: 18, fontWeight: "bold" })}>a</div>
      <div style={txt({ left: 11, top: 27 })}>(a)</div>
      <div style={txt({ left: 46, top: 27 })}>Fraction of variance (%) M=20</div>
      <div style={txt({ left: 304, top: 27 })}>(b)</div>
      <div style={txt({ left: 336, top: 27 })}>Cumulative variance (%) M=20</div>
      <ChartPanel left={47} top={57} w={234} h={174} build={buildFraction} />
      <ChartPanel left={340} top={57} w={235} h={174} build={buildCumulative} />
      <div style={txt({ left: 47, width: 234, textAlign: "center", top: 254 })}>M-SSA mode</div>
      <div style={txt({ left: 340, width: 235, textAlign: "center", top: 254 })}>M-SSA mode</div>
      <div style={txt({ left: -1, top: 296, fontSize: 18, fontWeight: "bold" })}>b</div>
      {RC_PANELS.map((p) => {
        const left = COL_LEFT[p.col];
        const w = COL_W[p.col];
        const top = ROW_TOP[p.row];
        return (
          <React.Fragment key={p.title}>
            <div style={txt({ left, width: w, textAlign: "center", top: top - 29 })}>{p.title}</div>
            <ChartPanel left={left} top={top} w={w} h={RC_H} build={() => buildRc(p)} />
          </React.Fragment>
        );
      })}
    </div>
  );
}
